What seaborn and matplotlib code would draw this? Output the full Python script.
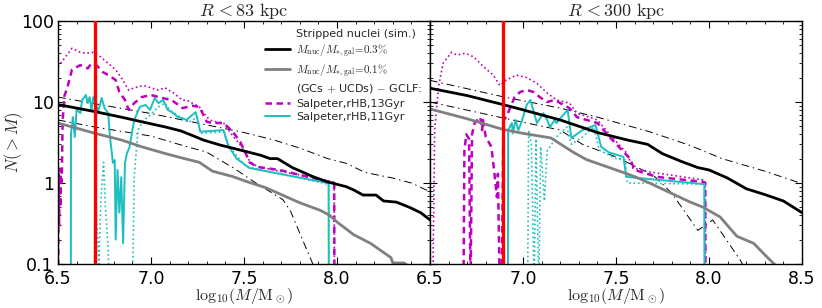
import numpy as np
import pandas as pd
import seaborn as sns
import matplotlib
matplotlib.use("Agg")
import matplotlib.pyplot as plt
from matplotlib.lines import Line2D
from matplotlib.ticker import MultipleLocator, FixedLocator, FixedFormatter, LogLocator, NullFormatter

# ---------------- data ----------------
titles = [r"$R\,{<}83\ \mathrm{kpc}$", r"$R\,{<}300\ \mathrm{kpc}$"]
x_label = r"$\mathrm{log}_{10}(M/\mathrm{M}_\odot)$"
y_label = r"$N(>M)$"
x_ticks = [6.5, 7.0, 7.5, 8.0, 8.5]
y_ticks = [0.1, 1, 10, 100]
y_tick_labels = ["0.1", "1", "10", "100"]
legend_labels = ["Stripped nuclei (sim.)",
                 r"$M_{\rm nuc}/M_{*,\rm gal}\!=\!0.3\%$",
                 r"$M_{\rm nuc}/M_{*,\rm gal}\!=\!0.1\%$",
                 r"(GCs$\,+\,$UCDs) $-$ GCLF:",
                 "Salpeter,rHB,13Gyr",
                 "Salpeter,rHB,11Gyr"]

# ---- left panel (R < 83 kpc) ----
L_red = 6.70
L_black_m = [6.5, 6.7, 6.84, 6.95, 7.08, 7.16, 7.23, 7.28, 7.37, 7.48, 7.59, 7.64, 7.68, 7.76, 7.87,
             7.95, 8.05, 8.09, 8.14, 8.21, 8.25, 8.32, 8.39, 8.45, 8.5]
L_black_n = [9.3, 7.6, 6.5, 5.7, 4.9, 4.4, 3.8, 3.4, 2.95, 2.55, 2.2, 2.0, 2.0, 1.55, 1.2,
             1.03, 0.9, 0.82, 0.71, 0.71, 0.6, 0.58, 0.5, 0.43, 0.35]
L_gray_m = [6.5, 6.7, 6.84, 6.95, 7.08, 7.18, 7.26, 7.33, 7.44, 7.51, 7.62, 7.7, 7.8, 7.91, 7.96,
            8.0, 8.09, 8.18, 8.29, 8.3, 8.36, 8.4]
L_gray_n = [5.5, 4.1, 3.4, 2.8, 2.3, 2.0, 1.8, 1.4, 1.2, 1.05, 0.87, 0.72, 0.57, 0.46, 0.4,
            0.33, 0.23, 0.18, 0.12, 0.103, 0.103, 0.09]
L_ddup_m = [6.5, 6.7, 7.0, 7.25, 7.5, 7.66, 7.8, 7.95, 8.05, 8.15, 8.3, 8.4, 8.5]
L_ddup_n = [11.5, 9.5, 7.2, 5.5, 4.2, 3.4, 2.7, 2.0, 1.75, 1.35, 1.15, 1.0, 0.78]
L_ddlo_m = [6.5, 6.7, 7.0, 7.15, 7.3, 7.45, 7.55, 7.71, 7.75, 7.8, 7.87, 7.9]
L_ddlo_n = [6.0, 4.9, 3.8, 3.0, 2.4, 1.5, 1.05, 0.62, 0.45, 0.24, 0.1, 0.07]
L_mdash_m = [6.501, 6.503, 6.506, 6.509, 6.512, 6.515, 6.52, 6.525, 6.535, 6.55, 6.575, 6.6, 6.62,
             6.66, 6.68, 6.71, 6.74, 6.77, 6.81, 6.83, 6.86, 6.88, 6.91, 6.95, 7.0, 7.06, 7.11,
             7.17, 7.22, 7.26, 7.3, 7.33, 7.39, 7.44, 7.48, 7.51, 7.53, 7.57, 7.69, 7.87, 7.97,
             7.985, 7.986]
L_mdash_n = [0.05, 1.3, 0.3, 1.5, 0.5, 1.2, 1.0, 6.0, 12, 15, 25, 27, 28.5,
             26, 30, 28, 23.5, 21.5, 18.7, 13.3, 10.6, 8.0, 9.7, 11.5, 12.2, 11.2, 10.6,
             8.4, 9.0, 8.7, 5.7, 5.5, 5.5, 4.3, 3.2, 2.3, 1.8, 1.58, 1.45, 1.15, 1.02,
             1.0, 0.05]
L_mdot_m = [6.5, 6.54, 6.575, 6.62, 6.655, 6.69, 6.73, 6.77, 6.81, 6.84, 6.88, 6.91, 6.96, 7.0,
            7.04, 7.075, 7.12, 7.17, 7.19, 7.26, 7.3, 7.33, 7.39, 7.44, 7.5, 7.53, 7.57, 7.69,
            7.87, 7.97, 7.985, 7.986]
L_mdot_n = [27, 36, 46, 41, 40, 41, 36, 30, 25, 20, 14, 15, 16, 15,
            14, 15, 13, 10.5, 10.6, 8.7, 6.5, 5.8, 5.5, 3.8, 2.6, 1.85, 1.6, 1.4,
            1.17, 1.04, 1.02, 0.05]
L_cyan_m = [6.569, 6.57, 6.58, 6.59, 6.6, 6.62, 6.63, 6.65, 6.66, 6.67, 6.68, 6.69, 6.7, 6.715,
            6.735, 6.75, 6.77, 6.78, 6.79, 6.795, 6.805, 6.81, 6.82, 6.83, 6.84, 6.85, 6.86,
            6.87, 6.885, 6.9, 6.91, 6.94, 6.97, 6.995, 7.02, 7.04, 7.065, 7.09, 7.12, 7.145,
            7.17, 7.19, 7.24, 7.265, 7.39, 7.415, 7.46, 7.53, 7.95, 7.955, 7.956]
L_cyan_n = [0.05, 4.1, 6.5, 3.7, 8, 7.3, 10.6, 12.2, 9.7, 11.5, 8, 11.5, 10.6, 7.5,
            11.2, 8.4, 7.3, 3.6, 2.3, 1.77, 1.92, 0.2, 1.45, 0.43, 1.18, 0.18, 1.77,
            2.3, 2.8, 4.5, 6, 8.7, 9.2, 8, 11.2, 9.7, 10.6, 8, 7.3, 6.5,
            6.3, 6.0, 7.5, 4.3, 4.5, 2.9, 2.0, 1.53, 1.0, 1.0, 0.05]
L_cdot_m = [6.695, 6.70, 6.71, 6.72, 6.73, 6.745, 6.755, 6.77, 6.775, 6.9, 6.91, 6.93, 6.96,
            6.985, 7.01, 7.04, 7.075, 7.1, 7.14, 7.17, 7.2, 7.25, 7.265, 7.39, 7.42, 7.51,
            7.95, 7.955, 7.956]
L_cdot_n = [0.05, 1.45, 0.3, 0.1, 0.6, 1.8, 0.5, 0.15, 0.05, 0.05, 1.2, 4.5, 6,
            6.5, 7.5, 8.7, 9.7, 8, 6.9, 6.3, 5.6, 6.5, 4.1, 4.3, 2.8, 1.6,
            0.97, 0.97, 0.05]

# ---- right panel (R < 300 kpc) ----
R_red = 6.89
R_black_m = [6.5, 6.7, 6.9, 7.0, 7.2, 7.4, 7.56, 7.67, 7.75, 7.85, 7.94, 8.0, 8.1, 8.2, 8.3, 8.4, 8.5]
R_black_n = [14.8, 12, 9.2, 8.0, 6.0, 4.2, 3.4, 3.0, 2.3, 1.85, 1.55, 1.45, 1.15, 0.85, 0.72, 0.6, 0.43]
R_gray_m = [6.5, 6.7, 6.89, 7.0, 7.15, 7.27, 7.34, 7.5, 7.6, 7.68, 7.79, 7.9, 7.97, 8.06, 8.15,
            8.24, 8.3, 8.35, 8.4]
R_gray_n = [8.2, 6.2, 4.6, 4.1, 3.6, 2.4, 1.95, 1.45, 1.2, 1.0, 0.76, 0.58, 0.5, 0.38, 0.22,
            0.18, 0.13, 0.1, 0.08]
R_ddup_m = [6.5, 6.9, 7.2, 7.4, 7.68, 7.9, 8.07, 8.3, 8.49]
R_ddup_n = [18.5, 11.5, 8.4, 6.5, 4.3, 2.9, 2.0, 1.4, 1.0]
R_ddlo_m = [6.5, 6.9, 7.2, 7.32, 7.5, 7.7, 7.8, 7.94, 8.02, 8.17, 8.2]
R_ddlo_n = [10, 6.3, 4.5, 3.0, 2.1, 1.25, 0.75, 0.26, 0.35, 0.11, 0.08]
R_mdash_m = [6.68, 6.685, 6.695, 6.71, 6.718, 6.726, 6.74, 6.755, 6.77, 6.78, 6.785, 6.8, 6.83,
             6.845, 6.86, 6.865, 6.875, 6.885, 6.895, 6.91, 6.93, 6.955, 6.985, 7.02, 7.055,
             7.09, 7.13, 7.17, 7.2, 7.25, 7.29, 7.4, 7.48, 7.575, 7.6, 7.72, 7.97, 7.98, 7.981]
R_mdash_n = [0.05, 2.5, 4.0, 3.5, 0.05, 4.0, 5.5, 6.0, 6.5, 4.5, 6.0, 3.7, 2.8,
             1.4, 0.67, 1.3, 0.05, 0.05, 6.0, 6.5, 8.4, 11.5, 13.3, 14.1, 13.3,
             11.5, 10, 10.6, 9.7, 8.4, 6.5, 5.5, 3.4, 2.0, 1.45, 1.19, 1.03, 1.0, 0.05]
R_mdot_m = [6.515, 6.525, 6.545, 6.57, 6.615, 6.645, 6.69, 6.735, 6.79, 6.84, 6.875, 6.91, 6.965,
            7.02, 7.075, 7.13, 7.18, 7.25, 7.29, 7.4, 7.47, 7.56, 7.59, 7.68, 7.97, 7.98, 7.981]
R_mdot_n = [0.05, 4.5, 15, 30, 41, 38, 40, 36, 27, 21.5, 16, 18.7, 21.5,
            20, 17, 12.9, 10.6, 9.7, 7.3, 6, 3.9, 2.3, 1.53, 1.37, 1.09, 1.05, 0.05]
R_cyan_m = [6.919, 6.92, 6.94, 6.945, 6.96, 6.975, 6.99, 7.0, 7.02, 7.04, 7.05, 7.075, 7.11, 7.13,
            7.145, 7.17, 7.18, 7.225, 7.24, 7.26, 7.32, 7.39, 7.42, 7.46, 7.54, 7.555, 7.97,
            7.975, 7.976]
R_cyan_n = [0.05, 4.5, 5.5, 4.1, 6, 4.5, 5.5, 6.5, 9.2, 10.6, 8.7, 5.5, 7.3, 6,
            4.9, 6, 5.5, 7.3, 8, 3.6, 4.5, 5.2, 2.8, 2.4, 2.1, 1.19, 0.97,
            0.97, 0.05]
R_cdot_m = [7.025, 7.03, 7.045, 7.06, 7.07, 7.085, 7.095, 7.115, 7.13, 7.145, 7.18, 7.235, 7.26,
            7.32, 7.38, 7.41, 7.5, 7.55, 7.56, 7.97, 7.975, 7.976]
R_cdot_n = [0.05, 4.5, 3.0, 0.05, 3.5, 0.05, 2.8, 0.6, 2.5, 2.8, 3.7, 4.9, 3.0,
            3.7, 4.9, 2.55, 2.0, 1.92, 1.0, 0.97, 0.97, 0.05]

# ---------------- style ----------------
sns.set_style("ticks")
plt.rcParams.update({
    "font.family": ["DejaVu Sans"],
    "mathtext.fontset": "cm",
    "xtick.direction": "in", "ytick.direction": "in",
    "xtick.top": True, "ytick.right": True,
    "xtick.major.size": 5, "ytick.major.size": 5,
    "xtick.minor.size": 2.5, "ytick.minor.size": 2.5,
    "xtick.color": "black", "ytick.color": "black",
    "axes.edgecolor": "black", "axes.linewidth": 1.0,
    "xtick.labelsize": 12.5, "ytick.labelsize": 12.5,
})

MAG = "#bf00bf"
CYA = "#1cbfbf"
GRY = "#808080"
DD = (0, (8, 4, 1.5, 4))

fig = plt.figure(figsize=(8.22, 3.08), dpi=100)
ax1 = fig.add_axes([58 / 822, 44 / 308, 372 / 822, 243 / 308])
ax2 = fig.add_axes([430 / 822, 44 / 308, 372 / 822, 243 / 308])


def line(ax, m, n, **kw):
    sns.lineplot(x=np.asarray(m), y=np.asarray(n), ax=ax, estimator=None, sort=False,
                 legend=False, **kw)


panels = [
    (ax1, L_red, L_black_m, L_black_n, L_gray_m, L_gray_n, L_ddup_m, L_ddup_n, L_ddlo_m, L_ddlo_n,
     L_mdash_m, L_mdash_n, L_mdot_m, L_mdot_n, L_cyan_m, L_cyan_n, L_cdot_m, L_cdot_n),
    (ax2, R_red, R_black_m, R_black_n, R_gray_m, R_gray_n, R_ddup_m, R_ddup_n, R_ddlo_m, R_ddlo_n,
     R_mdash_m, R_mdash_n, R_mdot_m, R_mdot_n, R_cyan_m, R_cyan_n, R_cdot_m, R_cdot_n),
]

for i, (ax, red, bm, bn, gm, gn, um, un, lm, ln, mdm, mdn, mom, mon, cm, cn, com, con) in enumerate(panels):
    line(ax, um, un, color="black", lw=0.7, linestyle=DD)
    line(ax, lm, ln, color="black", lw=0.7, linestyle=DD)
    line(ax, mom, mon, color=MAG, lw=1.2, linestyle=":")
    line(ax, mdm, mdn, color=MAG, lw=1.8, linestyle=(0, (2.6, 1.8)))
    line(ax, com, con, color=CYA, lw=1.2, linestyle=":")
    line(ax, cm, cn, color=CYA, lw=1.4)
    line(ax, gm, gn, color=GRY, lw=2.0)
    line(ax, bm, bn, color="black", lw=2.0)
    ax.axvline(red, color="red", lw=2.4, zorder=5)

    ax.set_yscale("log")
    ax.set_xlim(6.5, 8.5)
    ax.set_ylim(0.1, 100)
    ax.xaxis.set_major_locator(FixedLocator(x_ticks))
    ax.xaxis.set_major_formatter(FixedFormatter([f"{t:.1f}" for t in x_ticks]))
    ax.xaxis.set_minor_locator(MultipleLocator(0.1))
    ax.yaxis.set_major_locator(FixedLocator(y_ticks))
    ax.yaxis.set_minor_locator(LogLocator(base=10, subs=np.arange(2, 10)))
    ax.yaxis.set_minor_formatter(NullFormatter())
    ax.set_title(titles[i], fontsize=13, pad=3)
    ax.set_xlabel(x_label, fontsize=11.5, labelpad=-1)
    ax.tick_params(axis="x", pad=4)
    ax.tick_params(axis="y", pad=3)

ax1.yaxis.set_major_formatter(FixedFormatter(y_tick_labels))
ax1.set_ylabel(y_label, fontsize=12)
ax1.yaxis.set_label_coords(-0.088, 0.5)
ax2.set_ylabel("")
ax2.tick_params(axis="y", labelleft=False)
ax1.get_xticklabels()[-1].set_visible(False)

handles = [Line2D([], [], color="none"),
           Line2D([], [], color="black", lw=2.0),
           Line2D([], [], color=GRY, lw=2.0),
           Line2D([], [], color="none"),
           Line2D([], [], color=MAG, lw=1.8, linestyle=(0, (2.6, 1.8))),
           Line2D([], [], color=CYA, lw=1.4)]
ax1.legend(handles, legend_labels, loc="upper right", frameon=False, fontsize=8,
           handlelength=2.2, handletextpad=0.6, labelspacing=0.3, borderaxespad=0.3)

fig.savefig("out.png", dpi=100)
